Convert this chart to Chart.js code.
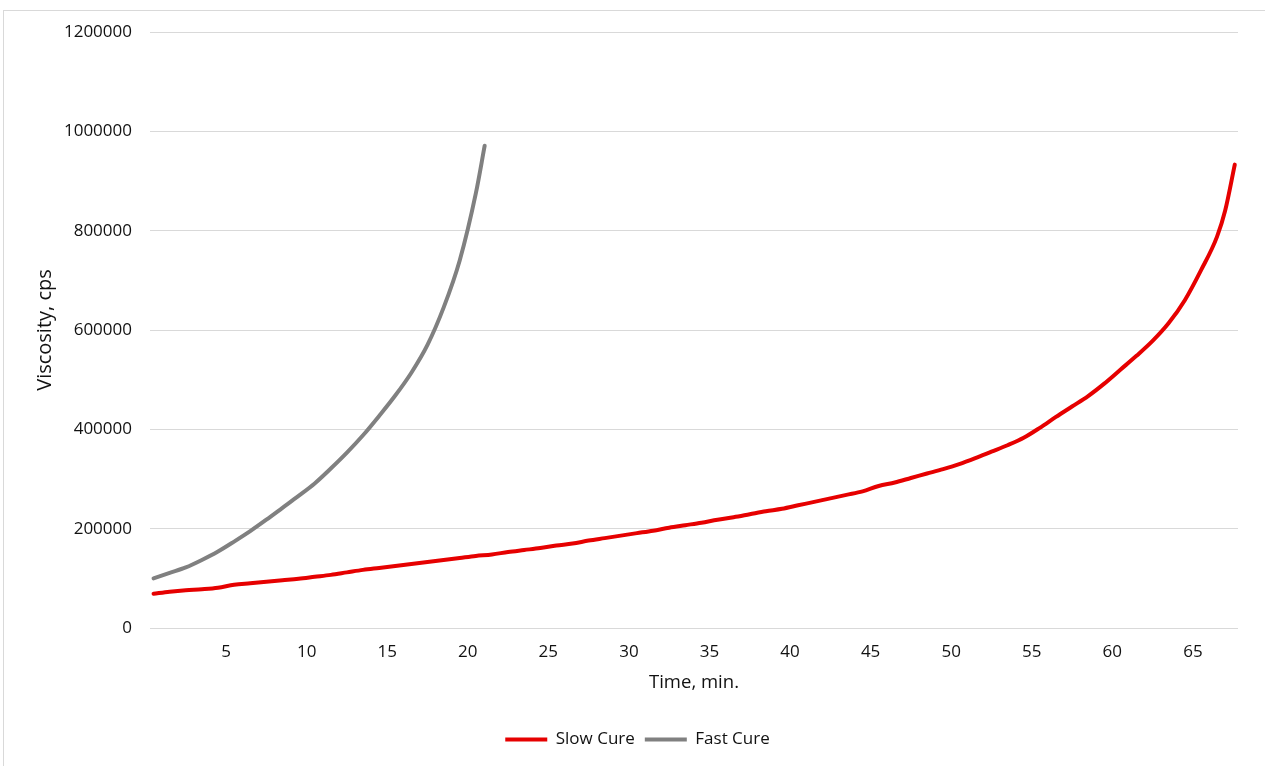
<!DOCTYPE html>
<html>
<head>
<meta charset="utf-8">
<script src="https://cdn.jsdelivr.net/npm/chart.js@4.4.1/dist/chart.umd.min.js"></script>
<style>
  html, body { margin: 0; padding: 0; background: #fff; overflow: hidden; }
  #wrap { position: relative; width: 1265px; height: 766px; }
  #frame { position: absolute; left: 3px; top: 10px; width: 1300px; height: 800px; border: 1px solid #d9d9d9; pointer-events: none; }
  canvas { position: absolute; left: 0; top: 0; }
</style>
</head>
<body>
<div id="wrap">
  <canvas id="grafico" width="1265" height="766"></canvas>
  <div id="frame"></div>
</div>
<script>
// tiempo (min) y viscosidad (cps)
const slowTime = [0.5, 1.5, 2.5, 3.5, 4.5, 5.5, 6.5, 7.5, 8.5, 9.5, 10.5, 11.5, 12.5, 13.5, 14.5,
  15.5, 16.5, 17.5, 18.5, 19.5, 20.5, 21.5, 22.5, 23.5, 24.5, 25.5, 26.5, 27.5, 28.5, 29.5,
  30.5, 31.5, 32.5, 33.5, 34.5, 35.5, 36.5, 37.5, 38.5, 39.5, 40.5, 41.5, 42.5, 43.5, 44.5,
  45.5, 46.5, 47.5, 48.5, 49.5, 50.5, 51.5, 52.5, 53.5, 54.5, 55.5, 56.5, 57.5, 58.5, 59.5,
  60.5, 61.5, 62.5, 63.5, 64.5, 65.5, 66.5, 67.0, 67.6];
const slowVisc = [69000, 73000, 76000, 78000, 81000, 87000, 90000, 93000, 96000, 99000,
  103000, 107000, 112000, 117000, 121000, 125000, 129000, 133000, 137000, 141000,
  145000, 148000, 153000, 157000, 161000, 166000, 170000, 176000, 181000, 186000,
  191000, 196000, 202000, 207000, 212000, 218000, 223000, 229000, 235000, 240000,
  247000, 254000, 261000, 268000, 275000, 286000, 293000, 302000, 311000, 320000,
  330000, 342000, 355000, 368000, 383000, 403000, 425000, 446000, 467000, 492000,
  520000, 548000, 578000, 614000, 660000, 720000, 788000, 840000, 933000];

const fastTime = [0.5, 1.5, 2.5, 3.5, 4.5, 5.5, 6.5, 7.5, 8.5, 9.5, 10.5, 11.5, 12.5, 13.5,
  14.5, 15.5, 16.5, 17.5, 18.5, 19.5, 20.5, 21.05];
const fastVisc = [100000, 111000, 122000, 137000, 154000, 174000, 195000, 218000, 242000,
  266000, 291000, 321000, 353000, 388000, 427000, 468000, 514000, 570000, 645000,
  740000, 875000, 971000];

const xTicks = [5, 10, 15, 20, 25, 30, 35, 40, 45, 50, 55, 60, 65];
const yTicks = [0, 200000, 400000, 600000, 800000, 1000000, 1200000];

const rojo = '#e60000';
const gris = '#808080';
const texto = '#111111';
const fuente = "'Open Sans', sans-serif";

const puntos = (xs, ys) => xs.map((x, i) => ({ x: x, y: ys[i] }));

function serie(label, xs, ys, color) {
    return {
        label: label,
        data: puntos(xs, ys),
        borderColor: color,
        backgroundColor: color,
        borderWidth: 4,
        pointRadius: 0,
        tension: 0.3,
        cubicInterpolationMode: 'monotone',
        borderCapStyle: 'round',
        borderJoinStyle: 'round'
    };
}

new Chart(document.getElementById('grafico'), {
    type: 'line',
    data: {
        datasets: [
            serie('Slow Cure', slowTime, slowVisc, rojo),
            serie('Fast Cure', fastTime, fastVisc, gris)
        ]
    },
    options: {
        responsive: false,
        animation: false,
        layout: { padding: { left: 37, right: 27, top: 32, bottom: 8 } },
        plugins: {
            tooltip: { enabled: false },
            legend: {
                position: 'bottom',
                labels: {
                    boxWidth: 42,
                    boxHeight: 4,
                    padding: 10,
                    color: texto,
                    font: { family: fuente, size: 17 },
                    generateLabels: (chart) => Chart.defaults.plugins.legend.labels.generateLabels(chart)
                        .map(l => Object.assign(l, { lineWidth: 0, fillStyle: l.strokeStyle }))
                }
            }
        },
        scales: {
            x: {
                type: 'linear',
                min: 0.28,
                max: 67.8,
                afterBuildTicks: (scale) => { scale.ticks = xTicks.map(v => ({ value: v })); },
                afterFit: (scale) => { scale.height = 93; },
                grid: { display: false, drawTicks: false },
                border: { display: false },
                ticks: { padding: 14, color: texto, font: { family: fuente, size: 17 }, maxRotation: 0 },
                title: {
                    display: true,
                    text: 'Time, min.',
                    color: texto,
                    font: { family: fuente, size: 18.5 },
                    padding: { top: 0, bottom: 27 }
                }
            },
            y: {
                min: 0,
                max: 1200000,
                afterBuildTicks: (scale) => { scale.ticks = yTicks.map(v => ({ value: v })); },
                afterFit: (scale) => { scale.width = 113; },
                grid: { color: '#d9d9d9', lineWidth: 1, drawTicks: false },
                border: { display: false },
                ticks: { padding: 18, color: texto, font: { family: fuente, size: 17 }, callback: (v) => String(v) },
                title: {
                    display: true,
                    text: 'Viscosity, cps',
                    color: texto,
                    font: { family: fuente, size: 20 },
                    padding: { top: -4, bottom: 0 }
                }
            }
        }
    }
});
</script>
</body>
</html>
